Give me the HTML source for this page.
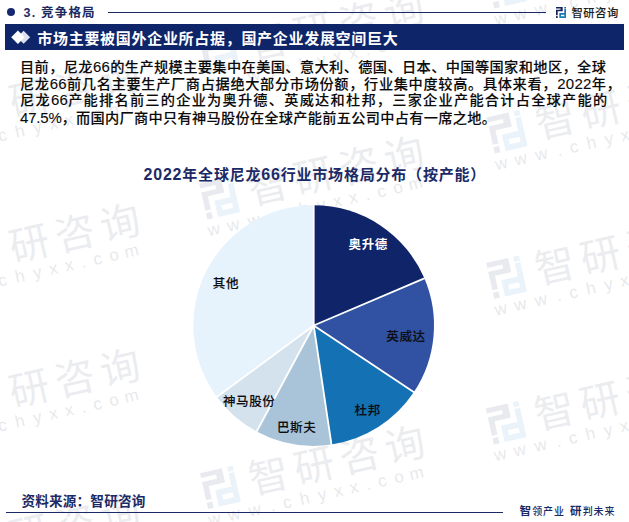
<!DOCTYPE html>
<html lang="zh-CN">
<head>
<meta charset="utf-8">
<title>竞争格局</title>
<style>
  html, body { margin: 0; padding: 0; background: #fff; }
  body { width: 629px; height: 522px; overflow: hidden; position: relative;
         font-family: "Liberation Sans", "Noto Sans CJK SC", sans-serif; color: #111; }
  .abs { position: absolute; }
  #wm { left: 0; top: 0; width: 629px; height: 522px; z-index: 0; }
  #hdr-dot { left: 6.7px; top: 8px; width: 8.2px; height: 8.2px; border-radius: 50%; background: #14296f; }
  #hdr-title { left: 23.5px; top: 4px; font-size: 12.5px; line-height: 18px; font-weight: bold; color: #1c2a62; white-space: nowrap; letter-spacing: 1.2px; }
  #hdr-line { left: 108px; top: 12px; width: 438px; height: 1px; background: #1b2a66; }
  #hdr-logo { left: 556px; top: 7px; width: 10px; height: 11px; }
  #hdr-brand { left: 571.4px; top: 3.5px; font-size: 11.3px; line-height: 18px; font-weight: 500; color: #1e1e1e; -webkit-text-stroke: 0.1px #1e1e1e; white-space: nowrap; letter-spacing: 0.55px; font-family: "Liberation Sans", "Noto Sans CJK SC", sans-serif; }
  #banner { left: 5px; top: 24px; width: 619px; height: 26px; background: #0f2569; }
  #banner-ico { left: 10px; top: 29px; width: 22px; height: 16px; }
  #banner-txt { left: 37.3px; top: 27.6px; font-size: 15px; line-height: 22px; font-weight: bold; color: #fff; white-space: nowrap; letter-spacing: 0.7px; }
  #para { left: 0; top: 0; width: 629px; height: 0; font-size: 14.2px; color: #0a0a0a; font-weight: 500; -webkit-text-stroke: 0.1px #0a0a0a; }
  .ln { position: absolute; left: 21px; white-space: nowrap; line-height: 17px; height: 17px; }
  .d { font-size: 15px; letter-spacing: 0.3px; }
  #l4 .d { letter-spacing: -0.2px; }
  #l1 { top: 57.6px; left: 20px; letter-spacing: 0.4px; }
  #l2 { top: 74.6px; left: 20px; letter-spacing: 0.665px; }
  #l3 { top: 91.4px; left: 20px; letter-spacing: 1.245px; }
  #l4 { top: 108.6px; left: 20px; letter-spacing: 0.3px; }
  #chart-title .td { font-size: 16px; }
  #chart-title { left: 143.5px; top: 164px; font-size: 15px; line-height: 22px; font-weight: bold; color: #1b2a66; white-space: nowrap; letter-spacing: 0.8px; }
  #pie { left: 0; top: 0; width: 629px; height: 522px; }
  .lbl { font-size: 12.5px; line-height: 16px; color: #0d0d12; white-space: nowrap; font-weight: 500; -webkit-text-stroke: 0.12px #0d0d12; letter-spacing: 0.6px; }
  .lbl.w { color: #fff; font-weight: bold; -webkit-text-stroke: 0; }
  #src { left: 21.5px; top: 492.6px; font-size: 13.6px; line-height: 18px; font-weight: bold; color: #1b2a66; white-space: nowrap; letter-spacing: 0.18px; }
  #ftr-line { left: 5.6px; top: 511.5px; width: 497px; height: 1.4px; background: #1b2a66; }
  #slogan { left: 519.4px; top: 503px; font-size: 10px; line-height: 16px; color: #1b2a66; white-space: nowrap; font-weight: 500; letter-spacing: 0.9px; }
  #slogan b { font-size: 11.6px; font-weight: bold; letter-spacing: 1.2px; }
  #slogan .gap { display: inline-block; width: 5px; }
</style>
</head>
<body>

<!-- watermarks -->
<svg id="wm" class="abs" viewBox="0 0 629 522">
  <defs>
    <g id="zlogo">
      <path fill="#2a3f7a" d="M0 0H6.7V4.3H1.7V8.3H0V2.75H4.6V1.5H0Z"/>
      <rect fill="#2a3f7a" x="0" y="9.1" width="1.7" height="1.9"/>
      <rect fill="#3c86d6" x="8.3" y="0" width="1.7" height="1.5"/>
      <path fill="#3c86d6" fill-rule="evenodd" d="M8.3 2H10V11H3.3V6H8.3ZM5 7.75H8.3V9.3H5Z"/>
    </g>
    <g id="wmark">
      <use href="#zlogo" transform="translate(2,1) scale(3.35)" opacity="0.1"/>
      <text y="33.4" x="68.5 115 161.5 208" text-anchor="middle" font-size="40" font-weight="400" font-family="'Liberation Sans','Noto Sans CJK SC',sans-serif" fill="#283250" opacity="0.085">智研咨询</text>
      <text y="54.5" x="6 26 47.2 65.5 80.5 98.5 116.5 133 149 163.5 178 195 213" text-anchor="middle" font-size="17" font-family="'Liberation Sans','Noto Sans CJK SC',sans-serif" fill="#283250" opacity="0.105">www.chyxx.com</text>
    </g>
  </defs>
  <g>
    <use href="#wmark" transform="translate(197,38.2) rotate(-12.8)"/>
    <use href="#wmark" transform="translate(197,183) rotate(-12.8)"/>
    <use href="#wmark" transform="translate(197.4,327.8) rotate(-12.8)"/>
    <use href="#wmark" transform="translate(197.8,472.6) rotate(-12.8)"/>
    <use href="#wmark" transform="translate(484,-28) rotate(-12.8)"/>
    <use href="#wmark" transform="translate(484.5,117) rotate(-12.8)"/>
    <use href="#wmark" transform="translate(484,262.5) rotate(-12.8)"/>
    <use href="#wmark" transform="translate(483.6,408) rotate(-12.8)"/>
    <use href="#wmark" transform="translate(-87,105.5) rotate(-12.8)"/>
    <use href="#wmark" transform="translate(-87,250.5) rotate(-12.8)"/>
    <use href="#wmark" transform="translate(-87,395.5) rotate(-12.8)"/>
    <use href="#wmark" transform="translate(-87,540.5) rotate(-12.8)"/>
  </g>
</svg>

<!-- header -->
<div id="hdr-dot" class="abs"></div>
<div id="hdr-title" class="abs">3. 竞争格局</div>
<div id="hdr-line" class="abs"></div>
<svg id="hdr-logo" class="abs" viewBox="0 0 10 11">
  <defs><linearGradient id="lg1" x1="0" y1="0" x2="0" y2="1"><stop offset="0" stop-color="#2263b0"/><stop offset="1" stop-color="#1b86b4"/></linearGradient></defs>
  <path fill="#15245e" d="M0 0H6.7V4.3H1.7V8.3H0V2.75H4.6V1.5H0Z"/>
  <rect fill="#15245e" x="0" y="9.1" width="1.7" height="1.9"/>
  <rect fill="#2263b0" x="8.3" y="0" width="1.7" height="1.5"/>
  <path fill="url(#lg1)" fill-rule="evenodd" d="M8.3 2H10V11H3.3V6H8.3ZM5 7.75H8.3V9.3H5Z"/>
</svg>
<div id="hdr-brand" class="abs">智研咨询</div>

<!-- banner -->
<div id="banner" class="abs"></div>
<svg id="banner-ico" class="abs" viewBox="0 0 22 16">
  <path fill="#dde1ed" d="M13.6 1.7l6.5 6.5-6.5 6.5-6.5-6.5z"/>
  <path fill="#ffffff" d="M7.9 1.5l6.7 6.7-6.7 6.7-6.7-6.7z"/>
</svg>
<div id="banner-txt" class="abs">市场主要被国外企业所占据，国产企业发展空间巨大</div>

<!-- paragraph -->
<div id="para" class="abs">
  <div class="ln" id="l1">目前，尼龙<span class="d">66</span>的生产规模主要集中在美国、意大利、德国、日本、中国等国家和地区，全球</div>
  <div class="ln" id="l2">尼龙<span class="d">66</span>前几名主要生产厂商占据绝大部分市场份额，行业集中度较高。具体来看，<span class="d">2022</span>年，</div>
  <div class="ln" id="l3">尼龙<span class="d">66</span>产能排名前三的企业为奥升德、英威达和杜邦，三家企业产能合计占全球产能的</div>
  <div class="ln" id="l4"><span class="d">47.5%</span>，而国内厂商中只有神马股份在全球产能前五公司中占有一席之地。</div>
</div>

<!-- chart -->
<div id="chart-title" class="abs"><span class="td">2022</span>年全球尼龙<span class="td">66</span>行业市场格局分布（按产能）</div>
<svg id="pie" class="abs" viewBox="0 0 629 522">
  <g id="slices">
    <path fill="#10246a" d="M313.7 325.5L313.70 205.20A120.3 120.3 0 0 1 424.35 278.30Z"/>
    <path fill="#3152a2" d="M313.7 325.5L424.35 278.30A120.3 120.3 0 0 1 413.90 392.07Z"/>
    <path fill="#1371b4" d="M313.7 325.5L413.90 392.07A120.3 120.3 0 0 1 331.48 444.48Z"/>
    <path fill="#a9c4d8" d="M313.7 325.5L331.48 444.48A120.3 120.3 0 0 1 256.67 431.42Z"/>
    <path fill="#d4e2ee" d="M313.7 325.5L256.67 431.42A120.3 120.3 0 0 1 216.87 396.89Z"/>
    <path fill="#e6f2fc" d="M313.7 325.5L216.87 396.89A120.3 120.3 0 0 1 313.70 205.20Z"/>
  </g>
  <g id="seps" stroke="#ffffff" stroke-width="1.8" stroke-linecap="butt">
    <line x1="313.7" y1="325.5" x2="313.70" y2="204.60"/>
    <line x1="313.7" y1="325.5" x2="424.91" y2="278.07"/>
    <line x1="313.7" y1="325.5" x2="414.40" y2="392.41"/>
    <line x1="313.7" y1="325.5" x2="331.57" y2="445.07"/>
    <line x1="313.7" y1="325.5" x2="256.38" y2="431.95"/>
    <line x1="313.7" y1="325.5" x2="216.39" y2="397.24"/>
  </g>
</svg>
<div class="abs lbl w" id="lb1" style="left:348.6px; top:236.8px;">奥升德</div>
<div class="abs lbl" id="lb2" style="left:386.3px; top:328.5px;">英威达</div>
<div class="abs lbl" id="lb3" style="left:354.6px; top:403.4px;">杜邦</div>
<div class="abs lbl" id="lb4" style="left:277px; top:420.2px;">巴斯夫</div>
<div class="abs lbl" id="lb5" style="left:223px; top:394px;">神马股份</div>
<div class="abs lbl" id="lb6" style="left:212.8px; top:276.4px;">其他</div>

<!-- footer -->
<div id="src" class="abs">资料来源：智研咨询</div>
<div id="ftr-line" class="abs"></div>
<div id="slogan" class="abs"><b>智</b>领产业<span class="gap"> </span><b>研</b>判未来</div>

</body>
</html>
